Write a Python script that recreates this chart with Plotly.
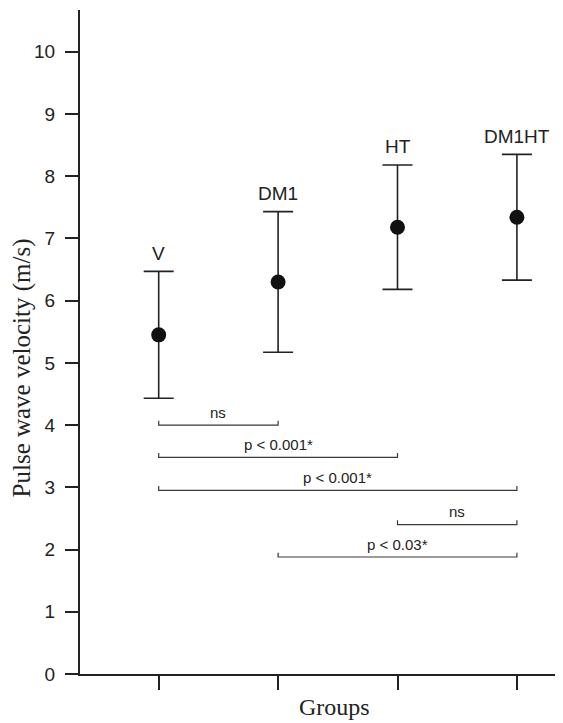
import plotly.graph_objects as go

groups = ["V", "DM1", "HT", "DM1HT"]
means = [5.45, 6.30, 7.18, 7.34]
errors = [1.02, 1.13, 1.00, 1.01]

# significance brackets: (start group index, end group index, level, label)
br_start = [0, 0, 0, 2, 1]
br_end = [1, 2, 3, 3, 3]
br_level = [4.0, 3.48, 2.95, 2.40, 1.88]
br_label = ["ns", "p < 0.001*", "p < 0.001*", "ns", "p < 0.03*"]

y_ticks = list(range(0, 11))

INK = "#222222"
xpos = list(range(len(groups)))

fig = go.Figure()

fig.add_trace(go.Scatter(
    x=xpos, y=means, mode="markers",
    marker=dict(size=15, color="#111111"),
    error_y=dict(type="data", array=errors, visible=True,
                 thickness=1.6, width=15, color=INK),
    showlegend=False, hoverinfo="skip",
))

tick_h = 0.07
for s, e, lv, lab in zip(br_start, br_end, br_level, br_label):
    fig.add_trace(go.Scatter(
        x=[s, s, e, e], y=[lv + tick_h, lv, lv, lv + tick_h],
        mode="lines", line=dict(color="#3a3a3a", width=1.2),
        showlegend=False, hoverinfo="skip",
    ))
    fig.add_annotation(x=(s + e) / 2, y=lv, text=lab, showarrow=False,
                       yshift=13, yanchor="middle",
                       font=dict(family="Liberation Sans, Arial", size=15, color=INK))

for xi, g, m, er in zip(xpos, groups, means, errors):
    fig.add_annotation(x=xi, y=m + er, text=g, showarrow=False,
                       yshift=18, yanchor="middle",
                       font=dict(family="Liberation Sans, Arial", size=19, color=INK))

fig.add_annotation(xref="paper", yref="paper", x=-0.121, y=0.461,
                   text="Pulse wave velocity (m/s)", textangle=-90,
                   showarrow=False, xanchor="center", yanchor="middle",
                   font=dict(family="Liberation Serif, Times New Roman", size=25, color=INK))
fig.add_annotation(xref="paper", yref="paper", x=0.526, y=-0.050,
                   text="Groups", showarrow=False, xanchor="center", yanchor="middle",
                   font=dict(family="Liberation Serif, Times New Roman", size=24, color=INK))

# page body has an 8px margin, so the figure is sized to fill the rest of the window
fig.update_layout(
    width=555, height=715,
    margin=dict(l=72, r=0, t=2, b=49),
    plot_bgcolor="white", paper_bgcolor="white",
    font=dict(family="Liberation Sans, Arial", color=INK),
)
fig.update_xaxes(
    range=[-0.659, 3.386], tickvals=xpos, ticktext=["", "", "", ""],
    showgrid=False, zeroline=False, showline=True, linecolor=INK, linewidth=2,
    ticks="outside", ticklen=14, tickwidth=2, tickcolor=INK,
)
fig.update_yaxes(
    range=[0, 10.67], tickvals=y_ticks, showgrid=False, zeroline=False,
    showline=True, linecolor=INK, linewidth=2,
    ticks="outside", ticklen=13, tickwidth=2, tickcolor=INK,
    tickfont=dict(family="Liberation Sans, Arial", size=19, color=INK),
    ticklabelstandoff=6,
)

fig.write_html("out.html")
